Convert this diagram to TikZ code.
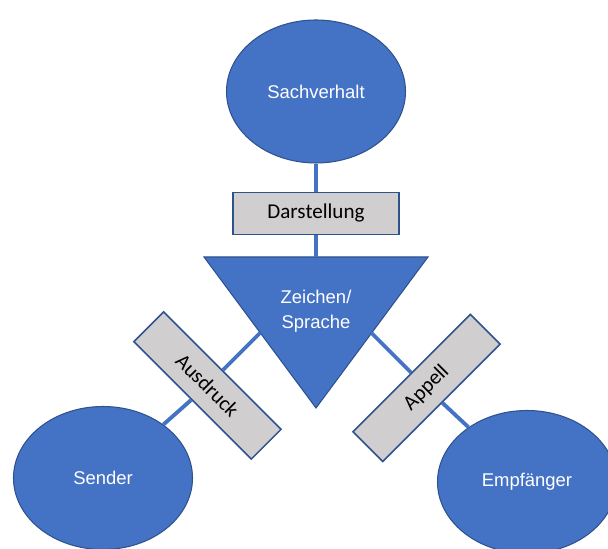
\documentclass[tikz,border=0pt]{standalone}
\usepackage{fontspec}
\setmainfont{Liberation Sans}
\newfontfamily\boxfont{Carlito}
\usepackage{xcolor}
\usetikzlibrary{shapes.geometric}
\definecolor{ofblue}{HTML}{4472C4}
\definecolor{ofdark}{HTML}{2F528F}
\definecolor{ofgray}{HTML}{D0CECE}

\begin{document}
\begin{tikzpicture}[
    party/.style={ellipse,draw=ofdark,line width=0.6pt,fill=ofblue,text=white,
      font=\fontsize{10.5}{12}\selectfont,minimum width=3.58cm,minimum height=2.86cm,inner sep=0pt},
    func/.style={rectangle,draw=ofdark,line width=0.9pt,fill=ofgray,
      font=\boxfont\fontsize{12}{14}\selectfont,minimum width=3.32cm,minimum height=0.84cm,inner sep=0pt},
    link/.style={draw=ofblue,line width=2.2pt}]
  \clip (0,0) rectangle (12.16,10.98);
  % Zeichen
  \draw[draw=ofdark,line width=0.6pt,fill=ofblue] (4.08,5.84) -- (8.56,5.84) -- (6.32,2.82) -- cycle;
  \node[text=white,align=center,font=\fontsize{10.5}{14.5}\selectfont] (zeichen) at (6.32,4.76) {Zeichen/\\Sprache};
  \coordinate (ztop) at (6.32,5.84);
  \coordinate (zleft) at (5.2,4.32);
  \coordinate (zright) at (7.43,4.32);

  \node[party] (sachverhalt) at (6.32,9.15) {Sachverhalt};
  \node[party] (sender) at (2.06,1.42) {Sender};
  \node[party] (empfaenger) at (10.54,1.34) {Empfänger};

  \node[func] (darstellung) at (6.32,6.71) {Darstellung};
  \node[func,rotate=-45] (ausdruck) at (4.15,3.27) {Ausdruck};
  \node[func,rotate=45] (appell) at (8.53,3.22) {Appell};

  \draw[link] (sachverhalt) -- (darstellung);
  \draw[link] (darstellung) -- (ztop);
  \draw[link] (zleft) -- (ausdruck);
  \draw[link] (ausdruck) -- (sender);
  \draw[link] (zright) -- (appell);
  \draw[link] (appell) -- (empfaenger);
\end{tikzpicture}
\end{document}
